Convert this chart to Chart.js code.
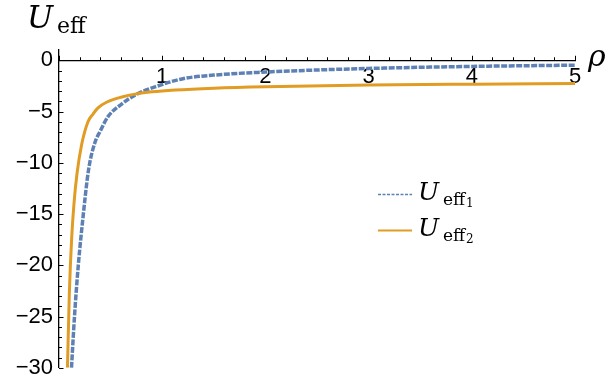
<!DOCTYPE html>
<html>
<head>
<meta charset="utf-8">
<script src="https://cdn.jsdelivr.net/npm/chart.js@4"></script>
<style>
  html, body { margin: 0; padding: 0; background: #fff; }
</style>
</head>
<body>
<canvas id="myChart" width="613" height="387"></canvas>
<script>
// values
var rho1 = [0.121, 0.15, 0.187, 0.236, 0.275, 0.3, 0.349, 0.4, 0.475, 0.61, 0.746, 0.93, 1.2, 1.5, 2, 2.5, 3, 4, 5];
var uEff1 = [-30, -25, -20, -15, -11.5, -9.9, -8, -6.9, -5.5, -4.25, -3.35, -2.6, -1.8, -1.45, -1.15, -0.95, -0.8, -0.6, -0.48];

var rho2 = [0.082, 0.1, 0.123, 0.145, 0.174, 0.22, 0.281, 0.33, 0.378, 0.46, 0.61, 0.75, 0.9, 1.124, 1.5, 2, 3, 4, 5];
var uEff2 = [-30, -22.8, -17.3, -14, -11.1, -8.2, -6, -5.25, -4.65, -4.1, -3.58, -3.28, -3.08, -2.9, -2.72, -2.58, -2.42, -2.33, -2.26];

var xTicks = [1, 2, 3, 4, 5];
var yTicks = [0, -5, -10, -15, -20, -25, -30];

var blue = "#5E81B5";
var orange = "#E19C24";
var serif = "'DejaVu Serif', serif";

function toPoints(xs, ys) {
  return xs.map(function (x, i) { return {x: x, y: ys[i]}; });
}

function minus(v) {
  return v < 0 ? "\u2212" + Math.abs(v) : String(v);
}

// ticks, axis labels and legend in the Mathematica style
var decor = {
  id: "decor",
  afterDraw: function (chart) {
    var ctx = chart.ctx;
    var xs = chart.scales.x, ys = chart.scales.y;
    var x0 = xs.getPixelForValue(0);
    var y0 = ys.getPixelForValue(0);
    ctx.save();
    ctx.strokeStyle = "#000";
    ctx.lineWidth = 1;
    for (var i = 0; i <= 25; i++) {
      var px = Math.round(xs.getPixelForValue(i * 0.2)) + 0.5;
      var len = (i % 5 === 0) ? 4.5 : 3;
      ctx.beginPath();
      ctx.moveTo(px, y0);
      ctx.lineTo(px, y0 - len);
      ctx.stroke();
    }
    for (var j = -30; j <= 0; j++) {
      var py = Math.round(ys.getPixelForValue(j)) + 0.5;
      var l = (j % 5 === 0) ? 4.5 : 3;
      ctx.beginPath();
      ctx.moveTo(x0, py);
      ctx.lineTo(x0 + l, py);
      ctx.stroke();
    }

    ctx.fillStyle = "#000";
    ctx.textBaseline = "alphabetic";
    ctx.textAlign = "left";
    // y label
    ctx.font = "italic 31px " + serif;
    ctx.fillText("U", 27, 28);
    ctx.font = "22px " + serif;
    ctx.fillText("eff", 57, 33);
    // x label
    ctx.font = "italic 30px " + serif;
    ctx.fillText("\u03C1", 588, 66);

    // legend
    var items = [
      {ds: chart.data.datasets[0], sub: "1", y: 194},
      {ds: chart.data.datasets[1], sub: "2", y: 230}
    ];
    items.forEach(function (it) {
      ctx.save();
      ctx.strokeStyle = it.ds.borderColor;
      ctx.lineWidth = it.ds.borderDash ? 1.5 : 2;
      ctx.setLineDash(it.ds.borderDash ? [3, 1.5] : []);
      ctx.beginPath();
      ctx.moveTo(378, it.y + 0.5);
      ctx.lineTo(412, it.y + 0.5);
      ctx.stroke();
      ctx.restore();
      ctx.font = "italic 25px " + serif;
      ctx.fillText("U", 418, it.y + 6);
      ctx.font = "17px " + serif;
      ctx.fillText("eff", 443, it.y + 11);
      ctx.font = "12px " + serif;
      ctx.fillText(it.sub, 466, it.y + 13);
    });
    ctx.restore();
  }
};

new Chart("myChart", {
  type: "line",
  data: {
    datasets: [{
      label: "Ueff1",
      data: toPoints(rho1, uEff1),
      borderColor: blue,
      borderWidth: 3.5,
      borderDash: [6, 1.5],
      pointRadius: 0,
      fill: false,
      cubicInterpolationMode: "monotone",
      order: 1
    }, {
      label: "Ueff2",
      data: toPoints(rho2, uEff2),
      borderColor: orange,
      borderWidth: 3,
      pointRadius: 0,
      fill: false,
      cubicInterpolationMode: "monotone",
      order: 0
    }]
  },
  options: {
    responsive: false,
    animation: false,
    layout: {padding: {top: 50, right: 38, bottom: 17, left: 0}},
    plugins: {
      legend: {display: false},
      tooltip: {enabled: false}
    },
    scales: {
      x: {
        type: "linear",
        min: 0,
        max: 5,
        position: {y: 0},
        afterBuildTicks: function (s) {
          s.ticks = xTicks.map(function (v) { return {value: v}; });
        },
        ticks: {
          color: "#000",
          font: {family: "'Liberation Sans', Arial, sans-serif", size: 22},
          padding: 3,
          maxRotation: 0,
          autoSkip: false
        },
        grid: {drawOnChartArea: false, drawTicks: false},
        border: {color: "#000", width: 1.3}
      },
      y: {
        type: "linear",
        min: -30,
        max: 1,
        position: "left",
        afterFit: function (s) { s.width = 59; },
        afterBuildTicks: function (s) {
          s.ticks = yTicks.map(function (v) { return {value: v}; });
        },
        ticks: {
          color: "#000",
          font: {family: "'Liberation Sans', Arial, sans-serif", size: 22},
          padding: 6,
          autoSkip: false,
          callback: function (v) { return minus(v); }
        },
        grid: {drawOnChartArea: false, drawTicks: false},
        border: {color: "#000", width: 1.3}
      }
    }
  },
  plugins: [decor]
});
</script>
</body>
</html>
